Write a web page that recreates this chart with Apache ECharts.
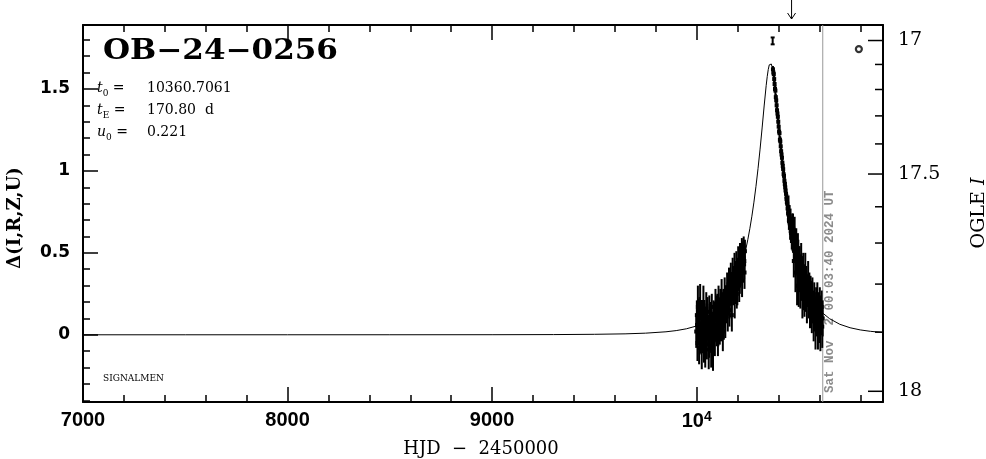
<!DOCTYPE html>
<html><head><meta charset="utf-8">
<script src="https://cdn.jsdelivr.net/npm/echarts@6/dist/echarts.min.js"></script>
<style>html,body{margin:0;padding:0;background:#fff}#c{width:986px;height:459px}</style>
</head><body><div id="c"></div>
<script>
// ---------- data ----------
const eventName = 'OB\u221224\u22120256';
const paramLabels = ['{i|t}{s|0} =', '{i|t}{s|E} =', '{i|u}{s|0} ='];
const paramValues = ['10360.7061', '170.80  d', '0.221'];
const surveyTag = 'SIGNALMEN';
const nowLabel = 'Sat Nov  2 00:03:40 2024 UT';
const nowT = 10616.5;
const arrowT = 10464;

const xTickValues = [7000, 8000, 9000, 10000];
const xTickLabels = ['7000', '8000', '9000', '10{sup|4}'];
const yTickValues = [0, 0.5, 1, 1.5];
const yTickLabels = ['0', '0.5', '1', '1.5'];
const magTicks = [17.0, 17.1, 17.2, 17.3, 17.4, 17.5, 17.6, 17.7, 17.8, 17.9, 18.0];
const magLabelValues = [17, 17.5, 18];
const magLabels = ['17', '17.5', '18'];

// model curve (HJD-2450000, Delta)
const modelT = [7000, 7500, 8000, 8500, 9000, 9300, 9500, 9650, 9750, 9850, 9900, 9950, 10000, 10020, 10040, 10060, 10080, 10100, 10120, 10130, 10140, 10150, 10160, 10170, 10180, 10190, 10200, 10210, 10220, 10230, 10240, 10250, 10260, 10270, 10280, 10290, 10300, 10310, 10320, 10330, 10340, 10345, 10350, 10355, 10360.7, 10365, 10370, 10375, 10380, 10390, 10400, 10410, 10420, 10430, 10440, 10450, 10460, 10470, 10480, 10500, 10520, 10540, 10560, 10580, 10600, 10620, 10650, 10700, 10750, 10800, 10850, 10911];
const modelD = [0.0000, 0.0000, 0.0001, 0.0002, 0.0005, 0.0013, 0.0030, 0.0058, 0.0100, 0.0183, 0.0256, 0.0366, 0.0538, 0.0630, 0.0747, 0.0887, 0.1058, 0.1270, 0.1530, 0.1684, 0.1850, 0.2044, 0.2250, 0.2494, 0.2760, 0.3058, 0.3400, 0.3767, 0.4190, 0.4662, 0.5195, 0.5797, 0.6473, 0.7236, 0.8093, 0.9058, 1.0136, 1.1327, 1.2619, 1.3960, 1.5216, 1.5753, 1.6182, 1.6470, 1.6580, 1.6519, 1.6279, 1.5886, 1.5377, 1.4147, 1.2806, 1.1504, 1.0296, 0.9203, 0.8222, 0.7350, 0.6574, 0.5887, 0.5280, 0.4250, 0.3440, 0.2800, 0.2290, 0.1880, 0.1550, 0.1287, 0.0981, 0.0641, 0.0430, 0.0297, 0.0211, 0.0142];

// observations [HJD-2450000, Delta, sigma]
const obs2023 = [[9998,0.02,0.10],[10001,0.12,0.09],[10002,0.06,0.10],[10004,-0.05,0.11],[10006,0.17,0.13],[10008,0.10,0.12],[10009,0.04,0.08],[10012,-0.08,0.10],[10014,0.10,0.13],[10015,-0.01,0.11],[10017,0.20,0.11],[10020,-0.02,0.09],[10022,0.07,0.12],[10025,-0.10,0.11],[10027,0.04,0.12],[10028,0.13,0.08],[10031,0.01,0.12],[10033,0.20,0.10],[10035,0.11,0.10],[10036,-0.04,0.13],[10039,0.09,0.10],[10042,-0.12,0.08],[10044,0.02,0.12],[10045,0.05,0.11],[10047,0.16,0.10],[10050,-0.06,0.09],[10052,0.08,0.11],[10053,0.11,0.12],[10056,0.03,0.08],[10059,-0.09,0.12],[10061,-0.02,0.12],[10062,0.14,0.10],[10065,0.00,0.11],[10068,0.08,0.09],[10070,0.10,0.10],[10071,-0.07,0.13],[10074,0.17,0.08],[10077,0.04,0.10],[10079,0.02,0.12],[10080,-0.10,0.12],[10083,0.12,0.09],[10086,0.06,0.11],[10088,0.09,0.11],[10089,-0.03,0.10],[10092,0.19,0.09],[10095,0.09,0.12],[10097,0.14,0.10],[10098,0.01,0.08],[10101,0.15,0.10],[10104,-0.02,0.11],[10106,0.05,0.12],[10107,0.21,0.09],[10110,0.10,0.12],[10113,0.03,0.09],[10115,0.12,0.11],[10116,0.18,0.10],[10119,0.07,0.11],[10122,0.24,0.10],[10124,0.16,0.10],[10125,0.12,0.09],[10128,0.02,0.12],[10131,0.20,0.08],[10133,0.08,0.11],[10134,0.14,0.10],[10137,0.26,0.09],[10140,0.09,0.11],[10142,0.18,0.10],[10143,0.22,0.08],[10146,0.17,0.10],[10149,0.29,0.09],[10151,0.21,0.11],[10152,0.13,0.11],[10155,0.24,0.08],[10158,0.31,0.10],[10160,0.15,0.10],[10161,0.19,0.09],[10164,0.27,0.08],[10167,0.34,0.10],[10169,0.28,0.10],[10170,0.22,0.09],[10172,0.12,0.10],[10173,0.30,0.08],[10176,0.37,0.10],[10178,0.31,0.09],[10179,0.26,0.08],[10182,0.33,0.09],[10185,0.40,0.10],[10186,0.20,0.10],[10187,0.34,0.10],[10188,0.29,0.08],[10191,0.36,0.09],[10194,0.43,0.08],[10196,0.25,0.09],[10197,0.33,0.10],[10199,0.28,0.10],[10200,0.39,0.08],[10203,0.45,0.09],[10206,0.36,0.08],[10208,0.30,0.10],[10209,0.42,0.10],[10211,0.36,0.11],[10212,0.48,0.08],[10215,0.39,0.09],[10218,0.46,0.08],[10221,0.50,0.09],[10222,0.33,0.10],[10224,0.42,0.08],[10225,0.47,0.09],[10227,0.49,0.08],[10230,0.53,0.07],[10232,0.43,0.09],[10233,0.45,0.08],[10234,0.38,0.10],[10236,0.51,0.07]];
const obs2024 = [[10373,1.62,0.02],[10375,1.60,0.02],[10377,1.59,0.02],[10379,1.56,0.02],[10381,1.53,0.02],[10383,1.50,0.02],[10385,1.49,0.03],[10387,1.45,0.02],[10389,1.43,0.02],[10391,1.40,0.03],[10393,1.37,0.02],[10395,1.35,0.02],[10397,1.33,0.03],[10399,1.30,0.02],[10401,1.27,0.03],[10403,1.24,0.02],[10405,1.23,0.03],[10407,1.19,0.02],[10409,1.18,0.03],[10411,1.15,0.04],[10413,1.12,0.03],[10415,1.10,0.03],[10417,1.08,0.03],[10419,1.05,0.04],[10421,1.03,0.03],[10423,1.01,0.04],[10425,0.98,0.03],[10427,0.97,0.04],[10429,0.94,0.04],[10431,0.92,0.05],[10433,0.90,0.04],[10435,0.88,0.05],[10437,0.86,0.05],[10439,0.83,0.04],[10441,0.81,0.05],[10443,0.80,0.06],[10445,0.77,0.05],[10447,0.74,0.06],[10449,0.78,0.07],[10451,0.70,0.06],[10453,0.72,0.07],[10455,0.68,0.06],[10457,0.66,0.08],[10459,0.70,0.07],[10461,0.62,0.06],[10463,0.64,0.08],[10465,0.59,0.07],[10467,0.66,0.08],[10469,0.58,0.07],[10471,0.62,0.12],[10473,0.61,0.08],[10475,0.45,0.10],[10477,0.57,0.09],[10479,0.60,0.12],[10481,0.55,0.10],[10483,0.38,0.12],[10485,0.53,0.09],[10487,0.52,0.13],[10489,0.50,0.09],[10491,0.30,0.12],[10493,0.46,0.10],[10495,0.48,0.14],[10497,0.48,0.10],[10499,0.28,0.11],[10501,0.43,0.11],[10503,0.40,0.14],[10505,0.40,0.09],[10507,0.28,0.12],[10509,0.37,0.10],[10511,0.45,0.11],[10513,0.30,0.09],[10515,0.36,0.12],[10517,0.22,0.12],[10519,0.33,0.11],[10521,0.40,0.10],[10523,0.27,0.12],[10525,0.34,0.09],[10527,0.22,0.11],[10529,0.30,0.10],[10531,0.38,0.12],[10533,0.24,0.10],[10536,0.31,0.11],[10539,0.19,0.12],[10542,0.27,0.10],[10545,0.33,0.12],[10548,0.21,0.11],[10551,0.28,0.10],[10554,0.16,0.12],[10557,0.25,0.11],[10560,0.20,0.13],[10563,0.12,0.11],[10566,0.23,0.12],[10569,0.17,0.10],[10572,0.09,0.13],[10575,0.21,0.11],[10578,0.14,0.12],[10581,0.05,0.14],[10584,0.18,0.11],[10587,0.11,0.12],[10590,0.22,0.10],[10593,0.03,0.12],[10596,0.15,0.11],[10599,0.08,0.13],[10602,0.19,0.10],[10605,0.01,0.11],[10608,0.12,0.12],[10611,0.17,0.10],[10614,0.05,0.13],[10616,0.10,0.11]];
const typicalErr = [[10371.6, 1.793, 0.021]];
const baselineMark = [[10793, 1.743]];

// ---------- scales / layout ----------
const X_MIN = 7000, X_MAX = 10911, Y_MIN = -0.41, Y_MAX = 1.89;
const FS = 0.308, I_BASE = 17.905;
function magToDelta(m) { const g = Math.pow(10, -0.4 * (m - I_BASE)); return 2.5 * Math.log10((g - (1 - FS)) / FS); }
const SERIF = '"DejaVu Serif", serif';

const chart = echarts.init(document.getElementById('c'), null, { renderer: 'canvas' });

function errRender(params, api) {
  const t = api.value(0), d = api.value(1), e = api.value(2);
  const a = api.coord([t, d + e]), b = api.coord([t, d - e]), c = api.coord([t, d]);
  return { type: 'group', children: [
    { type: 'line', shape: { x1: a[0], y1: a[1], x2: b[0], y2: b[1] }, style: { stroke: '#000', lineWidth: 2 } },
    { type: 'rect', shape: { x: c[0] - 2, y: c[1] - 2, width: 4, height: 4 }, style: { fill: '#000' } }
  ]};
}

function xAxisDef(pos, interval, len, showLine, showLabel) {
  return {
    type: 'value', position: pos, min: X_MIN, max: X_MAX, interval: interval,
    axisLine: { show: showLine, onZero: false, lineStyle: { color: '#000', width: 2 } },
    axisTick: { show: true, inside: true, length: len, lineStyle: { color: '#000', width: 1.5 } },
    splitLine: { show: false },
    axisLabel: showLabel ? {
      show: true, margin: 8, color: '#000', fontFamily: '"Liberation Sans", Arial, sans-serif', fontWeight: 'bold', fontSize: 20,
      formatter: v => { const i = xTickValues.indexOf(v); return i >= 0 ? xTickLabels[i] : ''; },
      rich: { sup: { fontSize: 14, fontWeight: 'bold', fontFamily: '"Liberation Sans", Arial, sans-serif', color: '#000', verticalAlign: 'top', padding: [0, 0, 8, 0] } }
    } : { show: false }
  };
}

const option = {
  backgroundColor: '#fff',
  animation: false,
  grid: { left: 83, top: 25, width: 800, height: 377, containLabel: false, outerBoundsMode: 'none' },
  xAxis: [
    xAxisDef('bottom', 1000, 15, true, true),
    xAxisDef('bottom', 200, 7, false, false),
    xAxisDef('top', 1000, 15, true, false),
    xAxisDef('top', 200, 7, false, false)
  ],
  yAxis: [
    {
      type: 'value', position: 'left', min: Y_MIN, max: Y_MAX, minInterval: 0.5, maxInterval: 0.5, splitNumber: 5,
      axisLine: { show: true, onZero: false, lineStyle: { color: '#000', width: 2 } },
      axisTick: { show: true, inside: true, length: 15, lineStyle: { color: '#000', width: 1.5 } },
      minorTick: { show: true, splitNumber: 5, length: 7, lineStyle: { color: '#000', width: 1.5 } },
      splitLine: { show: false }, minorSplitLine: { show: false },
      axisLabel: {
        show: true, margin: 13, color: '#000', fontFamily: '"DejaVu Sans", sans-serif', fontWeight: 'bold', fontSize: 17,
        formatter: v => { for (let i = 0; i < yTickValues.length; i++) { if (Math.abs(v - yTickValues[i]) < 1e-6) return yTickLabels[i]; } return ''; }
      }
    },
    {
      type: 'value', position: 'right', min: Y_MIN, max: Y_MAX,
      axisLine: { show: true, onZero: false, lineStyle: { color: '#000', width: 2 } },
      axisTick: { show: false }, axisLabel: { show: false }, splitLine: { show: false }
    }
  ],
  series: [
    {
      type: 'line', xAxisIndex: 0, yAxisIndex: 0, data: modelT.map((t, i) => [t, modelD[i]]),
      showSymbol: false, symbol: 'none', lineStyle: { color: '#000', width: 1 }, z: 2, silent: true, clip: true
    },
    { type: 'custom', xAxisIndex: 0, yAxisIndex: 0, data: obs2023, renderItem: errRender, encode: { x: 0, y: 1 }, clip: true, z: 3 },
    { type: 'custom', xAxisIndex: 0, yAxisIndex: 0, data: obs2024, renderItem: errRender, encode: { x: 0, y: 1 }, clip: true, z: 3 },
    {
      type: 'custom', xAxisIndex: 0, yAxisIndex: 0, data: typicalErr, encode: { x: 0, y: 1 }, clip: false, z: 4,
      renderItem: (params, api) => {
        const t = api.value(0), d = api.value(1), e = api.value(2);
        const a = api.coord([t, d + e]), b = api.coord([t, d - e]);
        const st = { stroke: '#000', lineWidth: 2 };
        return { type: 'group', children: [
          { type: 'line', shape: { x1: a[0], y1: a[1], x2: b[0], y2: b[1] }, style: st },
          { type: 'line', shape: { x1: a[0] - 2, y1: a[1], x2: a[0] + 2, y2: a[1] }, style: st },
          { type: 'line', shape: { x1: b[0] - 2, y1: b[1], x2: b[0] + 2, y2: b[1] }, style: st }
        ]};
      }
    },
    {
      type: 'scatter', xAxisIndex: 0, yAxisIndex: 0, data: baselineMark, symbol: 'circle', symbolSize: 6,
      itemStyle: { color: '#fff', borderColor: '#000', borderWidth: 2.2 }, z: 4, silent: true
    },
    {
      // now line + label
      type: 'custom', xAxisIndex: 0, yAxisIndex: 0, data: [[nowT, Y_MIN]], encode: { x: 0, y: 1 }, clip: false, z: 1,
      renderItem: (params, api) => {
        const t = api.value(0);
        const b = api.coord([t, Y_MIN]), a = api.coord([t, Y_MAX]);
        return { type: 'group', children: [
          { type: 'line', shape: { x1: b[0], y1: b[1], x2: a[0], y2: a[1] }, style: { stroke: '#999', lineWidth: 1 } },
          { type: 'text', x: b[0] + 7, y: b[1] - 9, rotation: Math.PI / 2,
            style: { text: nowLabel, fill: '#8c8c8c', font: 'bold 12.5px "Liberation Mono", monospace', align: 'left', verticalAlign: 'middle' } }
        ]};
      }
    },
    {
      // arrow above the frame
      type: 'custom', xAxisIndex: 0, yAxisIndex: 0, data: [[arrowT, Y_MAX]], encode: { x: 0, y: 1 }, clip: false, z: 4,
      renderItem: (params, api) => {
        const p = api.coord([api.value(0), api.value(1)]);
        const st = { stroke: '#000', lineWidth: 1, fill: null };
        return { type: 'group', children: [
          { type: 'line', shape: { x1: p[0], y1: p[1] - 25, x2: p[0], y2: p[1] - 6 }, style: st },
          { type: 'polyline', shape: { points: [[p[0] - 4, p[1] - 12], [p[0], p[1] - 6], [p[0] + 4, p[1] - 12]] }, style: st }
        ]};
      }
    },
    {
      // right-hand OGLE I magnitude axis
      type: 'custom', xAxisIndex: 0, yAxisIndex: 0, data: magTicks.map(m => [X_MAX, magToDelta(m), m]), encode: { x: 0, y: 1 }, clip: false, z: 5,
      renderItem: (params, api) => {
        const p = api.coord([api.value(0), api.value(1)]);
        const m = api.value(2);
        let li = -1;
        for (let i = 0; i < magLabelValues.length; i++) if (Math.abs(m - magLabelValues[i]) < 1e-6) li = i;
        const major = li >= 0;
        const ch = [{ type: 'line', shape: { x1: p[0] - (major ? 15 : 8), y1: p[1], x2: p[0], y2: p[1] }, style: { stroke: '#000', lineWidth: 1.5 } }];
        if (major) ch.push({ type: 'text', x: p[0] + 15, y: p[1], style: { text: magLabels[li], fill: '#000', font: '19px ' + SERIF, align: 'left', verticalAlign: 'middle' } });
        return { type: 'group', children: ch };
      }
    }
  ],
  graphic: [
    { type: 'text', x: 103, y: 52, scaleX: 1.15, style: { text: eventName, fill: '#000', font: 'bold 27px ' + SERIF, align: 'left', verticalAlign: 'middle' } },
    ...paramLabels.map((s, i) => ({ type: 'text', x: 97, y: 88 + 22 * i, style: { text: s, fill: '#000', font: '14px ' + SERIF, align: 'left', verticalAlign: 'middle',
        rich: { i: { fontStyle: 'italic', fontSize: 14, fontFamily: '"DejaVu Serif"', lineHeight: 20, verticalAlign: 'middle' },
                s: { fontSize: 9, fontFamily: '"DejaVu Serif"', lineHeight: 20, verticalAlign: 'bottom' } } } })),
    ...paramValues.map((s, i) => ({ type: 'text', x: 147, y: 88 + 22 * i, style: { text: s, fill: '#000', font: '14px ' + SERIF, align: 'left', verticalAlign: 'middle' } })),
    { type: 'text', x: 103, y: 379, style: { text: surveyTag, fill: '#000', font: '9px ' + SERIF, align: 'left', verticalAlign: 'middle' } },
    { type: 'text', x: 15, y: 218, rotation: Math.PI / 2, style: { text: '\u0394(I,R,Z,U)', fill: '#000', font: 'bold 18px ' + SERIF, align: 'center', verticalAlign: 'middle' } },
    { type: 'text', x: 979, y: 213, rotation: Math.PI / 2, style: { text: '{n|OGLE }{i|I}', fill: '#000', font: '19px ' + SERIF, align: 'center', verticalAlign: 'middle',
        rich: { n: { fontSize: 19, fontFamily: '"DejaVu Serif"' }, i: { fontSize: 19, fontFamily: '"DejaVu Serif"', fontStyle: 'italic' } } } },
    { type: 'text', x: 481, y: 449, style: { text: 'HJD  \u2212  2450000', fill: '#000', font: '18px ' + SERIF, align: 'center', verticalAlign: 'middle' } }
  ]
};
chart.setOption(option);
</script>
</body></html>
